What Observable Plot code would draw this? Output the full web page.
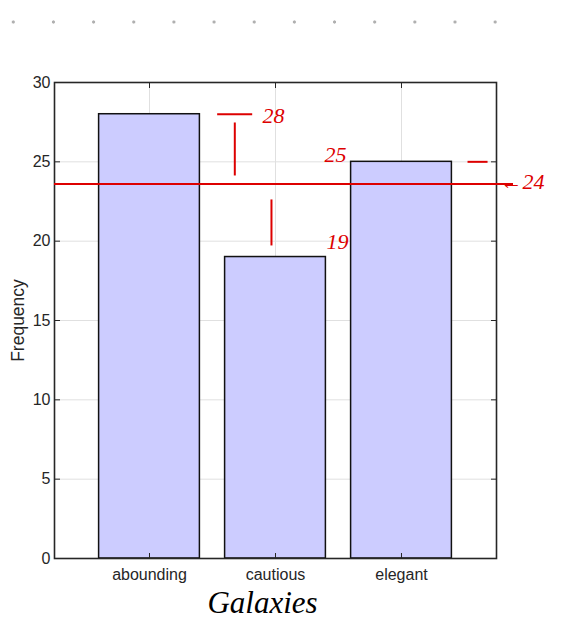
<!DOCTYPE html>
<html>
<head>
<meta charset="utf-8">
<script src="https://cdn.jsdelivr.net/npm/d3@7"></script>
<script src="https://cdn.jsdelivr.net/npm/@observablehq/plot@0.6"></script>
<style>
  html, body { margin: 0; padding: 0; background: #fff; }
  #wrap { position: relative; width: 568px; height: 620px; }
  #dots { position: absolute; top: 19px; left: 0; width: 515px; height: 6px;
    background-image: radial-gradient(circle, #b0b0b0 1.3px, transparent 1.9px);
    background-size: 40.17px 6px; background-position: -6.8px 0; background-repeat: repeat-x; }
  #chart { position: absolute; top: 0; left: 0; }
</style>
</head>
<body>
<div id="wrap"><div id="dots"></div><div id="chart"></div></div>
<script>
// Chart data
const categories = ["abounding", "cautious", "elegant"];
const frequencies = [28, 19, 25];
const yTicks = [0, 5, 10, 15, 20, 25, 30];
const xPositions = [1, 2, 3];

// Handwritten annotations (data coordinates)
const meanLine = [{y: 23.6, x1: 0.246, x2: 3.889}];
const redSegments = [
  {x1: 1.537, x2: 1.815, y1: 28, y2: 28},
  {x1: 1.677, x2: 1.677, y1: 27.48, y2: 24.14},
  {x1: 1.968, x2: 1.968, y1: 22.63, y2: 19.73},
  {x1: 3.524, x2: 3.683, y1: 25, y2: 25}
];
const redLabels = [
  {x: 1.984, y: 27.92, text: "28", anchor: "middle"},
  {x: 2.492, y: 19.92, text: "19", anchor: "middle"},
  {x: 2.476, y: 25.46, text: "25", anchor: "middle"},
  {x: 3.960, y: 23.76, text: "\u219024", anchor: "start"}
];
const xLabel = [{x: 1.897, y: -2.84, text: "Galaxies"}];

const bars = categories.map((c, i) => ({category: c, pos: xPositions[i], freq: frequencies[i]}));

const axisColor = "#262626";
const red = "#dd0000";
const hand = "'Liberation Serif', serif";
const blank = () => "";

const chart = Plot.plot({
  width: 568,
  height: 620,
  marginLeft: 54,
  marginRight: 72,
  marginTop: 82,
  marginBottom: 62,
  style: {fontFamily: "'Liberation Sans', Arial, sans-serif", fontSize: "16px", color: axisColor, background: "transparent", overflow: "visible"},
  x: {domain: [0.246, 3.754]},
  y: {domain: [0, 30]},
  marks: [
    Plot.gridY(yTicks, {stroke: "#e0e0e0", strokeOpacity: 1, strokeWidth: 1}),
    Plot.gridX(xPositions, {stroke: "#e0e0e0", strokeOpacity: 1, strokeWidth: 1}),
    Plot.rect(bars, {x1: d => d.pos - 0.4, x2: d => d.pos + 0.4, y1: 0, y2: "freq",
      fill: "#ccccff", stroke: "#111", strokeWidth: 1.5}),
    Plot.frame({stroke: axisColor, strokeWidth: 1.6}),
    Plot.axisY(yTicks, {anchor: "left", tickSize: -6, tickPadding: 10, stroke: axisColor, fill: axisColor, label: null}),
    Plot.axisY(yTicks, {anchor: "right", tickSize: -6, tickFormat: blank, stroke: axisColor, label: null}),
    Plot.axisX(xPositions, {anchor: "bottom", tickSize: -5, tickPadding: 15, stroke: axisColor, fill: axisColor,
      tickFormat: d => categories[d - 1], label: null}),
    Plot.axisX(xPositions, {anchor: "top", tickSize: -5, tickFormat: blank, stroke: axisColor, label: null}),
    Plot.text(["Frequency"], {frameAnchor: "left", dx: -36, rotate: -90, textAnchor: "middle", lineAnchor: "middle",
      fontSize: 17.5, fill: axisColor}),
    Plot.ruleY(meanLine, {y: "y", x1: "x1", x2: "x2", stroke: red, strokeWidth: 2, clip: false}),
    Plot.link(redSegments, {x1: "x1", x2: "x2", y1: "y1", y2: "y2", stroke: red, strokeWidth: 2}),
    Plot.text(redLabels, {x: "x", y: "y", text: "text", textAnchor: "anchor", fill: red, fontSize: 22,
      fontFamily: hand, fontStyle: "italic", lineAnchor: "middle"}),
    Plot.text(xLabel, {x: "x", y: "y", text: "text", fill: "#000", fontSize: 31, fontFamily: hand,
      fontStyle: "italic", lineAnchor: "middle"})
  ]
});
document.getElementById("chart").appendChild(chart);
</script>
</body>
</html>
